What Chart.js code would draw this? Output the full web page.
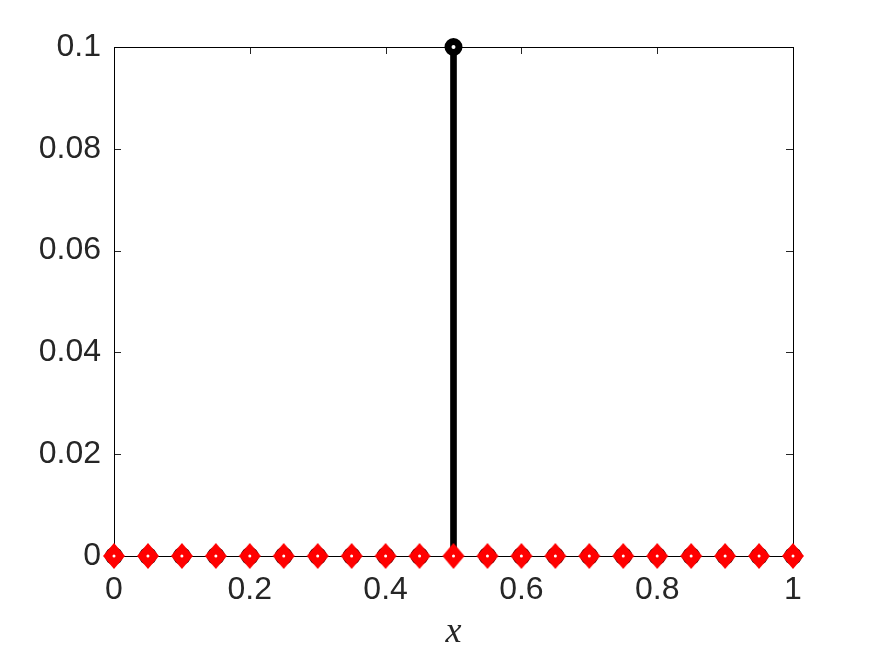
<!DOCTYPE html>
<html><head><meta charset="utf-8">
<script src="https://cdn.jsdelivr.net/npm/chart.js@4/dist/chart.umd.min.js"></script>
<style>html,body{margin:0;padding:0;background:#fff}#wrap{width:875px;height:656px}</style>
</head><body><div id="wrap"><canvas id="c" width="875" height="656"></canvas></div>
<script>
const xValues = [0,0.05,0.1,0.15,0.2,0.25,0.3,0.35,0.4,0.45,0.5,0.55,0.6,0.65,0.7,0.75,0.8,0.85,0.9,0.95,1];
const stemValues = [0,0,0,0,0,0,0,0,0,0,0.1,0,0,0,0,0,0,0,0,0,0];
const diamondValues = [0,0,0,0,0,0,0,0,0,0,0,0,0,0,0,0,0,0,0,0,0];
const xTicks = [0,0.2,0.4,0.6,0.8,1];
const yTicks = [0,0.02,0.04,0.06,0.08,0.1];

const stemPts = xValues.map((x,i)=>({x:x,y:stemValues[i]}));
const diaPts = xValues.map((x,i)=>({x:x,y:diamondValues[i]}));

// diamond marker image
const dia = document.createElement('canvas');
dia.width = 24; dia.height = 28;
(function(){const g=dia.getContext('2d');g.fillStyle='#ff0000';g.beginPath();
  g.moveTo(12,1);g.lineTo(23,14);g.lineTo(12,27);g.lineTo(1,14);g.closePath();g.fill();})();

const boxPlugin = {
  id:'box',
  beforeDatasetsDraw(chart){
    const {ctx, chartArea:a, scales} = chart;
    ctx.save();
    ctx.strokeStyle='#262626'; ctx.lineWidth=1;
    ctx.beginPath();
    xTicks.forEach(v=>{const p=Math.round(scales.x.getPixelForValue(v))+0.5;
      ctx.moveTo(p,a.bottom);ctx.lineTo(p,a.bottom-7);ctx.moveTo(p,a.top);ctx.lineTo(p,a.top+7);});
    yTicks.forEach(v=>{const p=Math.round(scales.y.getPixelForValue(v))+0.5;
      ctx.moveTo(a.left,p);ctx.lineTo(a.left+7,p);ctx.moveTo(a.right,p);ctx.lineTo(a.right-7,p);});
    ctx.stroke();
    ctx.strokeStyle='#000';
    ctx.strokeRect(Math.round(a.left)+0.5,Math.round(a.top)+0.5,Math.round(a.right-a.left),Math.round(a.bottom-a.top));
    ctx.restore();
  }
};

new Chart(document.getElementById('c'),{
  data:{datasets:[
    {type:'bar',data:stemPts,backgroundColor:'#000',barThickness:6,order:4,clip:false},
    {type:'scatter',data:stemPts,pointStyle:'circle',pointRadius:5.5,pointBorderWidth:7,pointBackgroundColor:'#fff',pointBorderColor:'#000',order:3,clip:false},
    {type:'scatter',data:diaPts,pointStyle:dia,order:2,clip:false},
    {type:'scatter',data:diaPts,pointStyle:'circle',pointRadius:1.5,pointBorderWidth:0,pointBackgroundColor:'#fff',order:1,clip:false}
  ]},
  options:{
    responsive:false,animation:false,
    layout:{padding:{left:0,right:82,top:47,bottom:0}},
    plugins:{legend:{display:false},tooltip:{enabled:false}},
    scales:{
      x:{type:'linear',min:0,max:1,offset:false,
        afterBuildTicks(s){s.ticks=xTicks.map(v=>({value:v}));},
        afterFit(s){s.height=100;},
        grid:{display:false,drawTicks:false,offset:false},border:{display:false},
        ticks:{color:'#262626',font:{family:'Liberation Sans',size:32},padding:15,maxRotation:0,callback:v=>String(v)},
        title:{display:true,text:'x',color:'#262626',font:{family:'Liberation Serif',style:'italic',size:36},padding:{top:0,bottom:2}}
      },
      y:{type:'linear',min:0,max:0.1,
        afterBuildTicks(s){s.ticks=yTicks.map(v=>({value:v}));},
        afterFit(s){s.width=114;},
        grid:{display:false,drawTicks:false},border:{display:false},
        ticks:{color:'#262626',font:{family:'Liberation Sans',size:32},padding:13,callback:v=>String(Math.round(v*100)/100)}
      }
    }
  },
  plugins:[boxPlugin]
});
</script></body></html>
